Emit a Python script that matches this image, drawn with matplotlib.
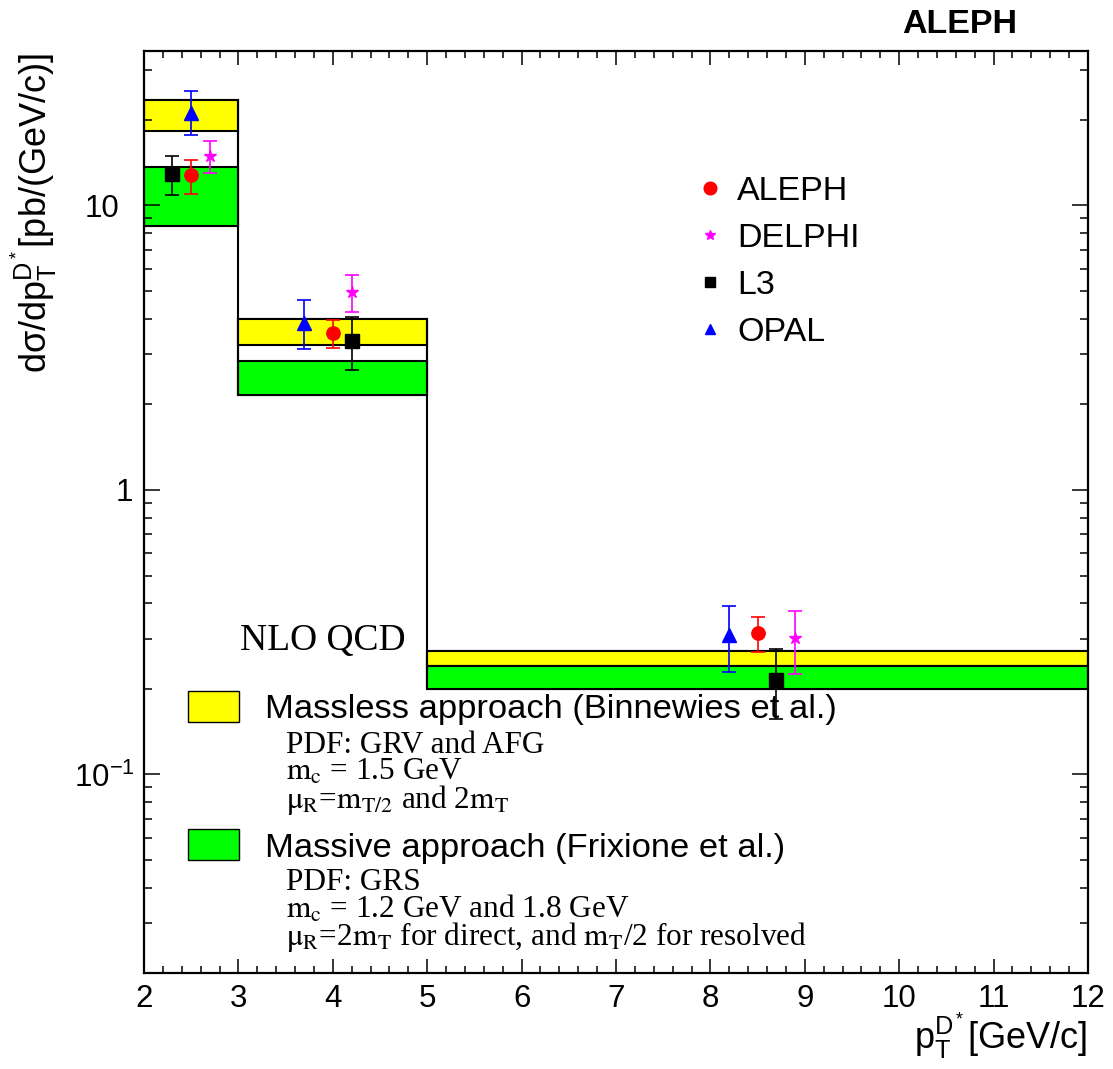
import matplotlib
matplotlib.use('Agg')
import matplotlib.pyplot as plt
from matplotlib.patches import Rectangle
from matplotlib.lines import Line2D
from matplotlib.transforms import ScaledTranslation
from matplotlib.ticker import MultipleLocator, LogLocator, FuncFormatter, NullFormatter

plt.rcParams['font.family'] = ['Liberation Sans', 'DejaVu Sans']
plt.rcParams['mathtext.fontset'] = 'custom'
plt.rcParams['mathtext.rm'] = 'Liberation Sans'
plt.rcParams['mathtext.it'] = 'Liberation Sans:italic'
plt.rcParams['mathtext.bf'] = 'Liberation Sans:bold'

# ---------------- data ----------------
bin_lo = [2, 3, 5]
bin_hi = [3, 5, 12]
massless_lo = [18.2, 3.22, 0.241]
massless_hi = [23.5, 4.00, 0.271]
massive_lo = [8.44, 2.15, 0.199]
massive_hi = [13.7, 2.85, 0.241]

aleph_x = [2.5, 4.0, 8.5]
aleph_y = [12.8, 3.56, 0.314]
aleph_lo = [11.0, 3.16, 0.269]
aleph_hi = [14.5, 3.95, 0.359]

delphi_x = [2.7, 4.2, 8.9]
delphi_y = [14.9, 4.95, 0.302]
delphi_lo = [13.0, 4.22, 0.226]
delphi_hi = [16.8, 5.71, 0.376]

l3_x = [2.3, 4.2, 8.7]
l3_y = [12.9, 3.35, 0.214]
l3_lo = [10.9, 2.64, 0.157]
l3_hi = [14.9, 4.05, 0.277]

opal_x = [2.5, 3.7, 8.2]
opal_y = [21.2, 3.86, 0.310]
opal_lo = [17.7, 3.12, 0.230]
opal_hi = [25.3, 4.65, 0.390]

experiments = ['ALEPH', 'DELPHI', 'L3', 'OPAL']
ytick_text = {0.1: r'$10^{-1}$', 1: '1', 10: '10'}

W, H = 1113, 1069
def fx(p):
    return p / W
def fy(p):
    return 1 - p / H

fig = plt.figure(figsize=(W / 100, H / 100), dpi=100)
ax = fig.add_axes([fx(144), fy(973.3), 944 / W, 922.6 / H])

widths = [h - l for l, h in zip(bin_lo, bin_hi)]
env_lo = [min(a, b) for a, b in zip(massless_lo, massive_lo)]
env_hi = [max(a, b) for a, b in zip(massless_hi, massive_hi)]
ax.bar(bin_lo, [h - l for l, h in zip(env_lo, env_hi)], bottom=env_lo, width=widths,
       align='edge', fill=False, edgecolor='black', linewidth=1.5, zorder=1)
ax.bar(bin_lo, [h - l for l, h in zip(massless_lo, massless_hi)], bottom=massless_lo,
       width=widths, align='edge', color='#ffff00', edgecolor='black', linewidth=1.5, zorder=1.5)
ax.bar(bin_lo, [h - l for l, h in zip(massive_lo, massive_hi)], bottom=massive_lo,
       width=widths, align='edge', color='#00ff00', edgecolor='black', linewidth=1.5, zorder=1.5)
# connecting vertical outline between adjacent bins
for i in range(len(bin_lo) - 1):
    ax.vlines(bin_hi[i], min(env_lo[i], env_lo[i + 1]), max(env_hi[i], env_hi[i + 1]),
              color='black', linewidth=1.5, zorder=1.6)

def draw(xs, ys, lo, hi, marker, color, ms):
    yerr = [[y - l for y, l in zip(ys, lo)], [h - y for y, h in zip(ys, hi)]]
    ax.errorbar(xs, ys, yerr=yerr, fmt=marker, color=color, mec=color, mfc=color,
                ms=ms, capsize=4.7, elinewidth=1.2, capthick=1.2, zorder=3)

draw(l3_x, l3_y, l3_lo, l3_hi, 's', 'black', 9.6)
draw(opal_x, opal_y, opal_lo, opal_hi, '^', '#0000ff', 9.4)
draw(aleph_x, aleph_y, aleph_lo, aleph_hi, 'o', '#ff0000', 9.6)
draw(delphi_x, delphi_y, delphi_lo, delphi_hi, '*', '#ff00ff', 9.0)

ax.set_xlim(2, 12)
ax.set_yscale('log')
ax.set_ylim(0.02, 35)

ax.xaxis.set_major_locator(MultipleLocator(1))
ax.xaxis.set_minor_locator(MultipleLocator(0.2))
ax.yaxis.set_major_locator(LogLocator(base=10, numticks=10))
ax.yaxis.set_minor_locator(LogLocator(base=10, subs=range(2, 10), numticks=20))
ax.yaxis.set_minor_formatter(NullFormatter())
def yfmt(v, pos):
    for k, s in ytick_text.items():
        if abs(v - k) / k < 1e-6:
            return s
    return ''
ax.yaxis.set_major_formatter(FuncFormatter(yfmt))

ax.tick_params(which='both', direction='in', top=True, right=True, width=1.1, colors='black')
ax.tick_params(axis='x', which='major', length=10, labelsize=22.5, pad=8)
ax.tick_params(axis='x', which='minor', length=5)
ax.tick_params(axis='y', which='major', length=11.5, labelsize=22.5, pad=18)
ax.tick_params(axis='y', which='minor', length=5.8)
for s in ax.spines.values():
    s.set_linewidth(1.6)

# experiment legend
handles = [Line2D([], [], ls='none', marker='o', color='#ff0000', ms=9.1),
           Line2D([], [], ls='none', marker='*', color='#ff00ff', ms=7.8),
           Line2D([], [], ls='none', marker='s', color='black', ms=7.2),
           Line2D([], [], ls='none', marker='^', color='#0000ff', ms=7.4)]
ax.legend(handles, experiments, loc='upper left', bbox_to_anchor=(0.5886, 0.864),
          frameon=False, fontsize=24.5, handlelength=0.6, handletextpad=0.5,
          labelspacing=0.47, borderpad=0, borderaxespad=0, numpoints=1)

# axis titles
fig.text(fx(34), fy(53), r'dσ/d$\mathrm{p_T^{D^*}}$[pb/(GeV/c)]', rotation=90,
         ha='center', va='top', fontsize=26)
fig.text(fx(1087), fy(1050), r'$\mathrm{p_T^{D^*}}$[GeV/c]', ha='right', va='baseline', fontsize=26)

fig.text(fx(960), fy(33.3), 'ALEPH', weight='bold', fontsize=24.5, ha='center', va='baseline')

serif = dict(family=['Liberation Serif', 'DejaVu Serif'], math_fontfamily='stix', va='baseline')
fig.text(fx(240), fy(650), 'NLO QCD', fontsize=27, **serif)

fig.add_artist(Rectangle((fx(188), fy(722)), 51 / W, 31 / H, transform=fig.transFigure,
                         facecolor='#ffff00', edgecolor='black', linewidth=1))
fig.add_artist(Rectangle((fx(188), fy(860)), 51 / W, 31 / H, transform=fig.transFigure,
                         facecolor='#00ff00', edgecolor='black', linewidth=1))

fig.text(fx(265), fy(717.7), 'Massless approach (Binnewies et al.)', fontsize=24.8, va='baseline')
fig.text(fx(265), fy(856.7), 'Massive approach (Frixione et al.)', fontsize=24.8, va='baseline')

fs = 22.5
fig.text(fx(286), fy(752.7), 'PDF: GRV and AFG', fontsize=fs, **serif)
fig.text(fx(286), fy(780), r'$\mathrm{m_c}$ = 1.5 GeV', fontsize=fs, **serif)
fig.text(fx(286), fy(808), r'$\mathrm{\mu_R}$=$\mathrm{m_{T/2}}$ and 2$\mathrm{m_T}$', fontsize=fs, **serif)
fig.text(fx(286), fy(890), 'PDF: GRS', fontsize=fs, **serif)
fig.text(fx(286), fy(917.7), r'$\mathrm{m_c}$ = 1.2 GeV and 1.8 GeV', fontsize=fs, **serif)
fig.text(fx(286), fy(945), r'$\mathrm{\mu_R}$=2$\mathrm{m_T}$ for direct, and $\mathrm{m_T}$/2 for resolved',
         fontsize=fs, **serif)

# shift the "1" and "10^-1" labels right, as in the reference
fig.canvas.draw()
shifts = {1: 14, 0.1: 16}
for tick in ax.yaxis.get_major_ticks():
    loc = tick.get_loc()
    for k, dx in shifts.items():
        if abs(loc - k) / k < 1e-6:
            tick.label1.set_transform(tick.label1.get_transform() +
                                      ScaledTranslation(dx / 100, 0, fig.dpi_scale_trans))

fig.savefig('out.png', dpi=100)
